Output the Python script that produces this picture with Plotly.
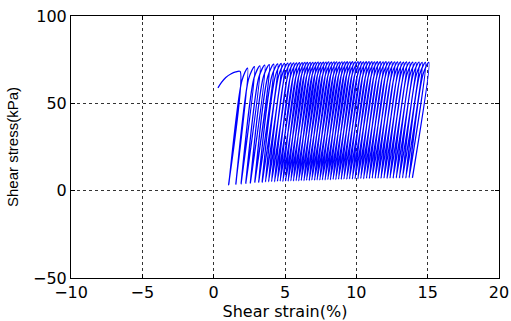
import plotly.graph_objects as go

# First loading curve (strain %, stress kPa)
init_strain = [0.30, 0.55, 0.85, 1.20, 1.55, 1.85]
init_stress = [58.9, 62.0, 64.8, 66.8, 68.0, 68.3]

# Per-cycle turning points of the cyclic loops
# strain at the bottom of each cycle (last entry = end of final unloading)
bottom_strain = [
    1.05, 1.55, 1.92, 2.25, 2.57, 2.88, 3.15, 3.40, 3.63, 3.85,
    4.06, 4.27, 4.47, 4.66, 4.85, 5.04, 5.22, 5.41, 5.59, 5.78,
    5.96, 6.14, 6.33, 6.51, 6.70, 6.88, 7.07, 7.25, 7.44, 7.62,
    7.81, 8.00, 8.18, 8.37, 8.56, 8.75, 8.94, 9.13, 9.33, 9.52,
    9.72, 9.91, 10.11, 10.31, 10.51, 10.71, 10.91, 11.11, 11.32, 11.52,
    11.73, 11.94, 12.15, 12.36, 12.58, 12.80, 13.02, 13.24, 13.47, 13.70,
    13.93,
]
bottom_stress = [
    3.3, 3.6, 3.9, 4.2, 4.4, 4.6, 4.8, 4.9, 5.0, 5.1,
    5.2, 5.1, 5.3, 5.4, 5.2, 5.5, 5.4, 5.6, 5.5, 5.7,
    5.6, 5.8, 5.7, 5.9, 5.8, 6.0, 5.9, 6.1, 6.0, 6.2,
    6.1, 6.3, 6.2, 6.4, 6.3, 6.5, 6.4, 6.6, 6.5, 6.7,
    6.6, 6.8, 6.7, 6.9, 6.8, 7.0, 6.9, 7.1, 7.0, 7.1,
    7.0, 7.2, 7.1, 7.2, 7.1, 7.3, 7.2, 7.3, 7.2, 7.4,
    7.3,
]
# strain / stress where the loading branch starts to bend over
knee_strain = [
    1.98, 2.45, 2.83, 3.17, 3.49, 3.80, 4.08, 4.33, 4.56, 4.79,
    5.00, 5.21, 5.41, 5.61, 5.80, 5.99, 6.17, 6.36, 6.55, 6.74,
    6.92, 7.10, 7.29, 7.47, 7.66, 7.85, 8.04, 8.22, 8.41, 8.59,
    8.78, 8.97, 9.15, 9.34, 9.53, 9.72, 9.91, 10.10, 10.30, 10.49,
    10.69, 10.88, 11.08, 11.28, 11.48, 11.68, 11.88, 12.08, 12.29, 12.49,
    12.70, 12.91, 13.12, 13.33, 13.55, 13.77, 13.99, 14.21, 14.44, 14.67,
]
knee_stress = [
    63.0, 64.0, 64.6, 65.0, 65.3, 65.5, 65.7, 65.9, 66.0, 66.1,
    66.2, 66.3, 66.3, 66.4, 66.4, 66.5, 66.5, 66.6, 66.6, 66.6,
    66.7, 66.6, 66.7, 66.7, 66.8, 66.7, 66.8, 66.8, 66.7, 66.8,
    66.8, 66.9, 66.8, 66.9, 66.8, 66.9, 66.9, 66.8, 66.9, 66.9,
    66.9, 66.8, 66.9, 66.9, 66.8, 66.9, 66.8, 66.9, 66.8, 66.8,
    66.8, 66.7, 66.8, 66.7, 66.7, 66.6, 66.7, 66.6, 66.6, 66.5,
]
# peak of each cycle
top_strain = [
    2.38, 2.86, 3.24, 3.58, 3.90, 4.21, 4.49, 4.74, 4.97, 5.20,
    5.41, 5.62, 5.82, 6.02, 6.21, 6.40, 6.58, 6.77, 6.96, 7.15,
    7.33, 7.51, 7.70, 7.88, 8.07, 8.26, 8.45, 8.63, 8.82, 9.00,
    9.19, 9.38, 9.56, 9.75, 9.94, 10.13, 10.32, 10.51, 10.71, 10.90,
    11.10, 11.29, 11.49, 11.69, 11.89, 12.09, 12.29, 12.49, 12.70, 12.90,
    13.11, 13.32, 13.53, 13.74, 13.96, 14.18, 14.40, 14.62, 14.85, 15.08,
]
top_stress = [
    70.2, 71.0, 71.5, 71.9, 72.2, 72.4, 72.6, 72.8, 72.9, 73.0,
    73.1, 73.2, 73.2, 73.3, 73.3, 73.4, 73.4, 73.5, 73.5, 73.5,
    73.6, 73.5, 73.6, 73.6, 73.7, 73.6, 73.7, 73.7, 73.6, 73.7,
    73.7, 73.8, 73.7, 73.8, 73.7, 73.8, 73.8, 73.7, 73.8, 73.8,
    73.8, 73.7, 73.8, 73.8, 73.7, 73.8, 73.7, 73.8, 73.7, 73.7,
    73.7, 73.6, 73.7, 73.6, 73.6, 73.5, 73.6, 73.5, 73.5, 73.4,
]

x_ticks = [-10, -5, 0, 5, 10, 15, 20]
y_ticks = [-50, 0, 50, 100]

# Assemble the continuous stress-strain path
xs = list(init_strain)
ys = list(init_stress)
for i in range(len(top_strain)):
    xs += [bottom_strain[i], knee_strain[i], top_strain[i]]
    ys += [bottom_stress[i], knee_stress[i], top_stress[i]]
xs.append(bottom_strain[-1])
ys.append(bottom_stress[-1])

fig = go.Figure()
fig.add_trace(go.Scatter(
    x=xs, y=ys, mode="lines",
    line=dict(color="#0000ff", width=1.3, shape="spline", smoothing=0.9),
    hoverinfo="skip",
))

axis_common = dict(
    showline=True, linecolor="black", linewidth=1, mirror="ticks",
    ticks="inside", ticklen=4, tickcolor="black",
    showgrid=True, gridcolor="#333", griddash="dot", gridwidth=1,
    zeroline=False, automargin=False,
    tickfont=dict(family="DejaVu Sans", size=16, color="black"),
)

fig.update_layout(
    width=511, height=321,
    margin=dict(l=71, r=12, t=16, b=43),
    plot_bgcolor="white", paper_bgcolor="white",
    showlegend=False,
    xaxis=dict(
        range=[-10, 20], tickvals=x_ticks,
        title=dict(text="Shear strain(%)", standoff=2,
                   font=dict(family="DejaVu Sans", size=16, color="black")),
        **axis_common,
    ),
    yaxis=dict(
        range=[-50, 100], tickvals=y_ticks,
        title=dict(text="Shear stress(kPa)", standoff=10,
                   font=dict(family="Liberation Sans", size=15, color="black")),
        **axis_common,
    ),
)

fig.write_html("out.html")
